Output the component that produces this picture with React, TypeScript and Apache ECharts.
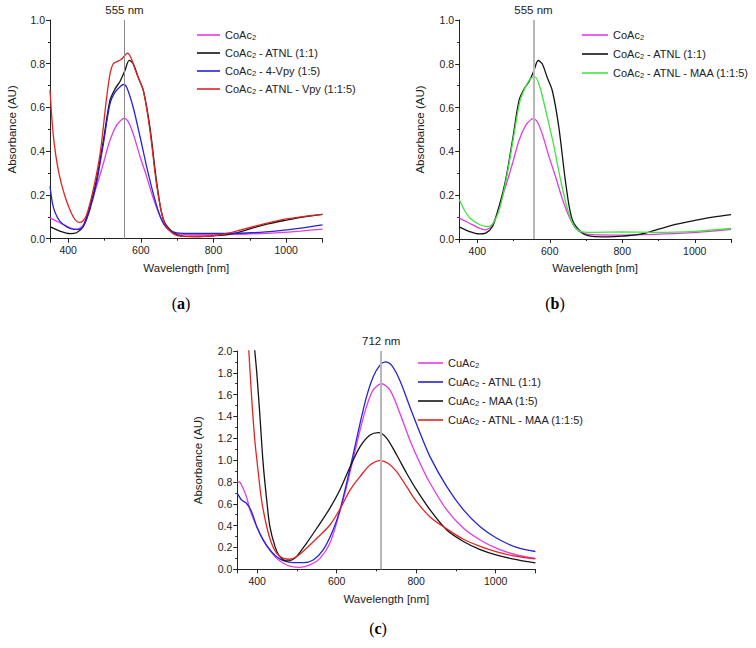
import React, { useEffect, useRef } from 'react';
import * as echarts from 'echarts';

// ---------- data (wavelength nm, absorbance AU) ----------
const coAc2: [number, number][] = [
  [350, 0.095], [377, 0.073], [405, 0.05], [423, 0.042], [442, 0.065], [460, 0.148], [478, 0.239],
  [497, 0.345], [515, 0.45], [533, 0.518], [547, 0.544], [555, 0.55], [566, 0.533], [579, 0.48],
  [598, 0.375], [616, 0.284], [634, 0.186], [653, 0.103], [671, 0.05], [690, 0.027], [717, 0.02],
  [800, 0.018], [900, 0.022], [983, 0.028], [1040, 0.035], [1100, 0.044],
];
const coAc2Atnl: [number, number][] = [
  [350, 0.055], [377, 0.035], [405, 0.023], [423, 0.027], [442, 0.057], [460, 0.148], [478, 0.269],
  [497, 0.45], [515, 0.632], [529, 0.685], [543, 0.72], [556, 0.768], [568, 0.815], [579, 0.8],
  [593, 0.737], [607, 0.677], [625, 0.51], [644, 0.254], [662, 0.088], [690, 0.027], [717, 0.012],
  [760, 0.01], [800, 0.013], [850, 0.022], [900, 0.045], [950, 0.068], [1000, 0.085], [1050, 0.1], [1100, 0.111],
];
const coAc2Vpy: [number, number][] = [
  [350, 0.24], [357, 0.16], [364, 0.12], [377, 0.08], [395, 0.055], [415, 0.043], [428, 0.043],
  [442, 0.057], [460, 0.133], [478, 0.254], [497, 0.435], [515, 0.617], [529, 0.67], [543, 0.695],
  [552, 0.705], [561, 0.692], [579, 0.6], [598, 0.465], [616, 0.33], [634, 0.208], [653, 0.103],
  [671, 0.05], [699, 0.027], [750, 0.024], [800, 0.024], [891, 0.026], [983, 0.037], [1040, 0.048], [1100, 0.063],
];
const coAc2AtnlVpy: [number, number][] = [
  [350, 0.68], [356, 0.53], [362, 0.43], [370, 0.34], [380, 0.26], [393, 0.185], [408, 0.12],
  [420, 0.085], [430, 0.075], [440, 0.08], [451, 0.11], [469, 0.224], [488, 0.39], [506, 0.647],
  [516, 0.76], [524, 0.8], [535, 0.81], [545, 0.818], [556, 0.838], [563, 0.848], [569, 0.84],
  [576, 0.815], [585, 0.77], [593, 0.737], [607, 0.677], [625, 0.496], [644, 0.239], [662, 0.088],
  [680, 0.035], [708, 0.012], [760, 0.01], [827, 0.02], [891, 0.047], [983, 0.085], [1040, 0.1], [1100, 0.111],
];
const coAc2AtnlMaa: [number, number][] = [
  [350, 0.18], [365, 0.13], [380, 0.095], [407, 0.065], [426, 0.057], [444, 0.073], [463, 0.148],
  [481, 0.284], [500, 0.465], [518, 0.632], [537, 0.707], [550, 0.737], [559, 0.74], [573, 0.692],
  [591, 0.571], [610, 0.435], [628, 0.284], [647, 0.148], [665, 0.065], [684, 0.035], [711, 0.03],
  [800, 0.032], [900, 0.03], [1000, 0.035], [1100, 0.048],
];

const cuAc2: [number, number][] = [
  [350, 0.8], [355, 0.8], [361, 0.77], [373, 0.666], [382, 0.543], [399, 0.39], [415, 0.27],
  [432, 0.177], [449, 0.1], [466, 0.055], [482, 0.03], [508, 0.018], [533, 0.04], [558, 0.1],
  [583, 0.238], [608, 0.528], [625, 0.757], [642, 1.017], [659, 1.277], [675, 1.49], [692, 1.643],
  [713, 1.7], [734, 1.643], [759, 1.43], [784, 1.185], [810, 0.97], [835, 0.788], [877, 0.544],
  [919, 0.376], [961, 0.269], [1003, 0.192], [1053, 0.131], [1100, 0.1],
];
const cuAc2Atnl: [number, number][] = [
  [350, 0.696], [361, 0.635], [373, 0.605], [386, 0.528], [399, 0.39], [415, 0.27], [432, 0.177],
  [449, 0.116], [466, 0.079], [491, 0.061], [516, 0.061], [541, 0.085], [566, 0.177], [591, 0.36],
  [608, 0.54], [625, 0.79], [642, 1.06], [659, 1.34], [675, 1.58], [692, 1.765], [709, 1.87],
  [722, 1.9], [738, 1.87], [759, 1.73], [784, 1.49], [810, 1.246], [835, 1.03], [877, 0.757],
  [919, 0.544], [961, 0.39], [1003, 0.284], [1053, 0.2], [1100, 0.163],
];
const cuAc2Maa: [number, number][] = [
  [390, 2.15], [394, 2.0], [399, 1.8], [407, 1.4], [415, 0.97], [424, 0.635], [432, 0.39],
  [445, 0.208], [457, 0.116], [474, 0.076], [487, 0.085], [499, 0.116], [524, 0.238], [550, 0.376],
  [583, 0.56], [608, 0.727], [634, 0.94], [659, 1.124], [684, 1.23], [705, 1.252], [726, 1.2],
  [751, 1.047], [776, 0.88], [801, 0.727], [835, 0.544], [877, 0.36], [919, 0.255], [961, 0.18],
  [1003, 0.13], [1053, 0.088], [1100, 0.058],
];
const cuAc2AtnlMaa: [number, number][] = [
  [375, 2.2], [379, 2.0], [386, 1.58], [394, 1.185], [403, 0.88], [411, 0.635], [424, 0.39],
  [436, 0.238], [449, 0.147], [466, 0.1], [482, 0.092], [499, 0.116], [524, 0.192], [550, 0.284],
  [583, 0.406], [608, 0.55], [634, 0.727], [659, 0.85], [684, 0.956], [709, 0.996], [730, 0.97],
  [751, 0.895], [776, 0.757], [801, 0.62], [835, 0.48], [877, 0.37], [919, 0.275], [961, 0.21],
  [1003, 0.16], [1053, 0.118], [1100, 0.095],
];

const namesA = ['CoAc2', 'CoAc2 - ATNL (1:1)', 'CoAc2 - 4-Vpy (1:5)', 'CoAc2 - ATNL - Vpy (1:1:5)'];
const namesB = ['CoAc2', 'CoAc2 - ATNL (1:1)', 'CoAc2 - ATNL - MAA (1:1:5)'];
const namesC = ['CuAc2', 'CuAc2 - ATNL (1:1)', 'CuAc2 - MAA (1:5)', 'CuAc2 - ATNL - MAA (1:1:5)'];
const peakCo = 555;
const peakCu = 712;

const MAGENTA = '#e23ce2';
const BLACK = '#141414';
const BLUE = '#2424d8';
const RED = '#e02424';
const GREEN = '#3fe63f';
const FONT = '"Liberation Sans", Arial, sans-serif';
const TXT = '#222';

function legendFmt(name: string) {
  const i = name.indexOf('Ac2');
  const head = name.slice(0, i + 2);
  const tail = name.slice(i + 3);
  return `{t|${head}}{s|2}` + (tail ? `{t|${tail}}` : '');
}

const legendRich = {
  t: { fontSize: 11, fontFamily: FONT, color: TXT, lineHeight: 12 },
  s: { fontSize: 7.5, fontFamily: FONT, color: TXT, lineHeight: 12, verticalAlign: 'bottom' as const, padding: [5, 0, 0, 0] },
};

function xAx(gridIndex: number, nameGap: number) {
  return {
    type: 'value', gridIndex, min: 350, max: 1100, splitNumber: 4,
    name: 'Wavelength [nm]', nameLocation: 'middle', nameGap,
    nameTextStyle: { fontSize: 11.5, color: TXT, fontFamily: FONT },
    axisLine: { show: true, onZero: false, lineStyle: { color: TXT, width: 1 } },
    axisTick: { show: true, length: 4, lineStyle: { color: TXT } },
    minorTick: { show: true, splitNumber: 2, length: 2, lineStyle: { color: TXT } },
    axisLabel: {
      showMinLabel: false, showMaxLabel: false, fontSize: 10.5, color: TXT, margin: 6, fontFamily: FONT,
      formatter: (v: number) => String(v),
    },
    splitLine: { show: false }, minorSplitLine: { show: false },
  };
}
function yAx(gridIndex: number, max: number, nameGap: number) {
  return {
    type: 'value', gridIndex, min: 0, max, interval: 0.2,
    name: 'Absorbance (AU)', nameLocation: 'middle', nameGap,
    nameTextStyle: { fontSize: 11.5, color: TXT, fontFamily: FONT },
    axisLine: { show: true, onZero: false, lineStyle: { color: TXT, width: 1 } },
    axisTick: { show: true, length: 4, lineStyle: { color: TXT } },
    minorTick: { show: true, splitNumber: 2, length: 2, lineStyle: { color: TXT } },
    axisLabel: { fontSize: 10.5, color: TXT, margin: 5, fontFamily: FONT, formatter: (v: number) => v.toFixed(1) },
    splitLine: { show: false }, minorSplitLine: { show: false },
  };
}
function line(name: string, data: [number, number][], color: string, idx: number, mark?: any) {
  const s: any = {
    type: 'line', name, data, xAxisIndex: idx, yAxisIndex: idx, color,
    symbol: 'none', showSymbol: false, smooth: 0.3, clip: true,
    lineStyle: { color, width: 1.3 }, z: 3,
  };
  if (mark) s.markLine = mark;
  return s;
}
function vmark(x: number, color: string, width: number) {
  return {
    silent: true, symbol: ['none', 'none'], animation: false,
    data: [{ xAxis: x }],
    lineStyle: { color, width, type: 'solid' },
    label: { show: true, position: 'end', formatter: `${x} nm`, fontSize: 11.5, color: TXT, fontFamily: FONT, distance: 4 },
  };
}
function legend(left: number, top: number, itemWidth: number, itemGap: number, data: string[]) {
  return {
    left, top, orient: 'vertical', padding: 0, itemWidth, itemHeight: 1.6, itemGap,
    icon: 'rect', selectedMode: false, data, formatter: legendFmt,
    textStyle: { fontSize: 11, fontFamily: FONT, color: TXT, rich: legendRich },
  };
}
function caption(letter: string, x: number, y: number) {
  return {
    type: 'text', x, y,
    style: {
      text: `{n|(}{b|${letter}}{n|)}`, align: 'center', verticalAlign: 'middle',
      rich: {
        n: { fontSize: 16, fontFamily: '"Liberation Serif", serif', fill: '#000' },
        b: { fontSize: 16, fontFamily: '"Liberation Serif", serif', fontWeight: 'bold', fill: '#000' },
      },
    },
  };
}

export default function App() {
  const ref = useRef<HTMLDivElement>(null);
  useEffect(() => {
    if (!ref.current) return;
    const chart = echarts.init(ref.current, undefined, { renderer: 'svg' });
    chart.setOption({
      animation: false,
      backgroundColor: '#fff',
      grid: [
        { left: 50, top: 20, width: 272.5, height: 218.7 },
        { left: 459.2, top: 20, width: 271.8, height: 219 },
        { left: 237.3, top: 351, width: 298.1, height: 218.3 },
      ],
      xAxis: [xAx(0, 23), xAx(1, 23), xAx(2, 24)],
      yAxis: [yAx(0, 1, 32), yAx(1, 1, 33), yAx(2, 2, 33)],
      legend: [
        legend(197, 28, 23, 5, namesA),
        legend(582, 28, 26, 6, namesB),
        legend(418, 356, 25, 6, namesC),
      ],
      series: [
        line(namesA[0], coAc2, MAGENTA, 0, vmark(peakCo, '#8a8a8a', 1)),
        line(namesA[1], coAc2Atnl, BLACK, 0),
        line(namesA[2], coAc2Vpy, BLUE, 0),
        line(namesA[3], coAc2AtnlVpy, RED, 0),
        line(namesB[0], coAc2, MAGENTA, 1, vmark(peakCo, '#b8b8b8', 2)),
        line(namesB[1], coAc2Atnl, BLACK, 1),
        line(namesB[2], coAc2AtnlMaa, GREEN, 1),
        line(namesC[0], cuAc2, MAGENTA, 2, vmark(peakCu, '#b8b8b8', 2)),
        line(namesC[1], cuAc2Atnl, BLUE, 2),
        line(namesC[2], cuAc2Maa, BLACK, 2),
        line(namesC[3], cuAc2AtnlMaa, RED, 2),
      ],
      graphic: [caption('a', 181, 303), caption('b', 555, 303), caption('c', 378, 628)],
    });
    return () => chart.dispose();
  }, []);
  return (
    <div
      ref={ref}
      style={{ position: 'absolute', left: 0, top: 0, width: 756, height: 648, background: '#fff' }}
    />
  );
}
